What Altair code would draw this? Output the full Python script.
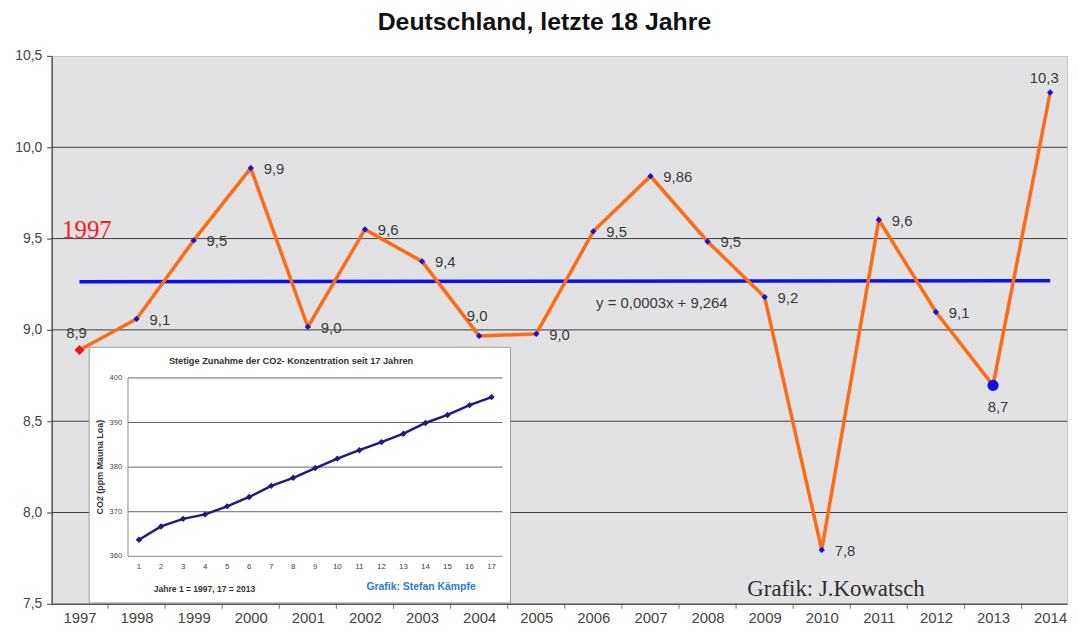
import altair as alt
import pandas as pd

# ---------------- data ----------------
YEARS = [1997, 1998, 1999, 2000, 2001, 2002, 2003, 2004, 2005,
         2006, 2007, 2008, 2009, 2010, 2011, 2012, 2013, 2014]
TEMPS = [8.89, 9.06, 9.49, 9.886, 9.016, 9.55, 9.375, 8.967, 8.978,
         9.54, 9.842, 9.484, 9.18, 7.795, 9.603, 9.098, 8.696, 10.30]
TEMP_LABELS = ["8,9", "9,1", "9,5", "9,9", "9,0", "9,6", "9,4", "9,0", "9,0",
               "9,5", "9,86", "9,5", "9,2", "7,8", "9,6", "9,1", "8,7", "10,3"]
TREND_YEARS = [1997, 2014]
TREND_VALUES = [9.264, 9.269]
Y_TICKS = [7.5, 8.0, 8.5, 9.0, 9.5, 10.0, 10.5]
GRID_LINES = [8.0, 8.5, 9.0, 9.5, 10.0]
TICK_BOUNDS = [1997.5, 1998.5, 1999.5, 2000.5, 2001.5, 2002.5, 2003.5, 2004.5, 2005.5,
               2006.5, 2007.5, 2008.5, 2009.5, 2010.5, 2011.5, 2012.5, 2013.5]

CO2_INDEX = [1, 2, 3, 4, 5, 6, 7, 8, 9, 10, 11, 12, 13, 14, 15, 16, 17]
CO2_PPM = [363.7, 366.7, 368.4, 369.4, 371.2, 373.3, 375.8, 377.6, 379.8,
           381.9, 383.8, 385.6, 387.5, 389.9, 391.7, 393.9, 395.7]
CO2_TICKS = [360, 370, 380, 390, 400]
CO2_GRID = [370, 380, 390, 400]

TITLE = "Deutschland, letzte 18 Jahre"
EQUATION = "y = 0,0003x + 9,264"
INSET_TITLE = "Stetige Zunahme der CO2- Konzentration seit 17 Jahren"
INSET_YTITLE = "CO2 (ppm Mauna Loa)"
INSET_NOTE = "Jahre 1 = 1997, 17 = 2013"
INSET_CREDIT = "Grafik: Stefan Kämpfe"
CREDIT = "Grafik: J.Kowatsch"

# ---------------- layout / style ----------------
W, H = 1023, 552
FONT = "Liberation Sans"
SERIF = "Liberation Serif"
LABEL_COLOR = "#3a3a3a"

xs = alt.Scale(domain=[1996.513, 2014.296], nice=False, zero=False)
ys = alt.Scale(domain=[7.5, 10.5], nice=False, zero=False)
x_axis = alt.Axis(values=YEARS, format="d", tickSize=0, labelFontSize=15, labelFont=FONT,
                  labelColor="#444", labelPadding=7, domainColor="#555", domainWidth=1.5,
                  grid=False, title=None, labelFlush=False, labelOverlap=False)
y_axis = alt.Axis(values=Y_TICKS, labelExpr="replace(format(datum.value, '.1f'), '.', ',')",
                  tickSize=5, tickColor="#555", tickWidth=1.2, labelFontSize=14, labelFont=FONT,
                  labelColor="#444", labelPadding=5, domainColor="#555", domainWidth=1.5,
                  grid=False, title=None, labelOverlap=False)


def MX(field):
    return alt.X(field, type="quantitative", scale=xs, axis=x_axis)


def MY(field):
    return alt.Y(field, type="quantitative", scale=ys, axis=y_axis)


df = pd.DataFrame({"year": YEARS, "temp": TEMPS, "label": TEMP_LABELS})

grid = alt.Chart(pd.DataFrame({"g": GRID_LINES})).mark_rule(
    color="#3c3c3c", strokeWidth=1).encode(y=MY("g"))

ticks = alt.Chart(pd.DataFrame({"b": TICK_BOUNDS, "y": [7.5] * len(TICK_BOUNDS)})).mark_tick(
    orient="vertical", size=5, thickness=1.2, color="#555", yOffset=2.5).encode(x=MX("b"), y=MY("y"))

trend = alt.Chart(pd.DataFrame({"year": TREND_YEARS, "v": TREND_VALUES})).mark_line(
    color="#0a10f0", strokeWidth=3.5).encode(x=MX("year"), y=MY("v"))

line = alt.Chart(df).mark_line(color="#ff6a13", strokeWidth=3.5).encode(x=MX("year"), y=MY("temp"))

pts = alt.Chart(df).transform_filter("datum.year != 1997 && datum.year != 2013").mark_point(
    shape="diamond", filled=True, color="#1010e0", size=40, opacity=1).encode(x=MX("year"), y=MY("temp"))
p_first = alt.Chart(df).transform_filter("datum.year == 1997").mark_point(
    shape="diamond", filled=True, color="#f01414", size=100, opacity=1).encode(x=MX("year"), y=MY("temp"))
p_low = alt.Chart(df).transform_filter("datum.year == 2013").mark_point(
    shape="circle", filled=True, color="#1010e8", size=125, opacity=1).encode(x=MX("year"), y=MY("temp"))

lab_kw = dict(font=FONT, fontSize=15, color=LABEL_COLOR)
lab_right = alt.Chart(df).transform_filter("indexof([1997, 2004, 2013, 2014], datum.year) < 0").mark_text(
    align="left", baseline="middle", dx=13, dy=1, **lab_kw).encode(x=MX("year"), y=MY("temp"), text="label:N")
lab_1997 = alt.Chart(df).transform_filter("datum.year == 1997").mark_text(
    align="center", baseline="middle", dx=-3, dy=-17, **lab_kw).encode(x=MX("year"), y=MY("temp"), text="label:N")
lab_2004 = alt.Chart(df).transform_filter("datum.year == 2004").mark_text(
    align="center", baseline="middle", dx=-2, dy=-20, **lab_kw).encode(x=MX("year"), y=MY("temp"), text="label:N")
lab_2013 = alt.Chart(df).transform_filter("datum.year == 2013").mark_text(
    align="center", baseline="middle", dx=5, dy=22, **lab_kw).encode(x=MX("year"), y=MY("temp"), text="label:N")
lab_2014 = alt.Chart(df).transform_filter("datum.year == 2014").mark_text(
    align="center", baseline="middle", dx=-6, dy=-15, **lab_kw).encode(x=MX("year"), y=MY("temp"), text="label:N")

notes = pd.DataFrame({
    "x": [2007.2, 1997.13, 2010.25],
    "y": [9.149, 9.545, 7.58],
    "t": [EQUATION, "1997", CREDIT],
})
eq = alt.Chart(notes.iloc[[0]]).mark_text(font=FONT, fontSize=15, color="#3a3a3a").encode(
    x=MX("x"), y=MY("y"), text="t:N")
red_year = alt.Chart(notes.iloc[[1]]).mark_text(font=SERIF, fontSize=25, color="#f02020").encode(
    x=MX("x"), y=MY("y"), text="t:N")
credit = alt.Chart(notes.iloc[[2]]).mark_text(font=SERIF, fontSize=23, color="#2e2e2e").encode(
    x=MX("x"), y=MY("y"), text="t:N")

frame = alt.Chart(pd.DataFrame({"x0": [1997.17], "x1": [2004.55], "y0": [7.505], "y1": [8.905]})).mark_rect(
    fill="white", stroke="#9a9a9a", strokeWidth=1).encode(x=MX("x0"), x2="x1", y=MY("y0"), y2="y1")

main = alt.layer(grid, ticks, trend, line, pts, p_first, p_low,
                 lab_right, lab_1997, lab_2004, lab_2013, lab_2014,
                 eq, red_year, credit, frame)

# ---------------- inset ----------------
ixs = alt.Scale(domain=[0.5, 17.5], range=[76.9, 454.3], nice=False, zero=False)
iys = alt.Scale(domain=[360, 400], range=[504.1, 324.4], nice=False, zero=False)


def IX(field):
    return alt.X(field, type="quantitative", scale=ixs, axis=None)


def IY(field):
    return alt.Y(field, type="quantitative", scale=iys, axis=None)


idf = pd.DataFrame({"i": CO2_INDEX, "ppm": CO2_PPM})

igrid = alt.Chart(pd.DataFrame({"t": CO2_GRID, "a": [0.5] * 4, "b": [17.5] * 4})).mark_rule(
    color="#666", strokeWidth=1).encode(y=IY("t"), x=IX("a"), x2="b")
iaxes = alt.Chart(pd.DataFrame({"a": [0.5, 0.5], "b": [0.5, 17.5], "c": [360, 360], "d": [400, 360]})).mark_rule(
    color="#8a8a8a", strokeWidth=1).encode(x=IX("a"), x2="b", y=IY("c"), y2="d")
iline = alt.Chart(idf).mark_line(color="#1c1c80", strokeWidth=2.5,
                                 point=alt.OverlayMarkDef(shape="diamond", filled=True, size=42, color="#1c1c80")
                                 ).encode(x=IX("i"), y=IY("ppm"))
iylab = alt.Chart(pd.DataFrame({"t": CO2_TICKS, "a": [0.5] * 5})).mark_text(
    align="right", baseline="middle", dx=-6, font=FONT, fontSize=7.5, color="#444").encode(
    x=IX("a"), y=IY("t"), text="t:Q")
ixlab = alt.Chart(pd.DataFrame({"i": CO2_INDEX, "c": [360] * 17})).mark_text(
    align="center", baseline="middle", dy=11, font=FONT, fontSize=8, color="#444").encode(
    x=IX("i"), y=IY("c"), text="i:Q")
itexts = pd.DataFrame({
    "x": [0.5, 7.9, 3.97, 13.8],
    "y": [380, 400, 360, 360],
    "t": [INSET_YTITLE, INSET_TITLE, INSET_NOTE, INSET_CREDIT],
})
iytitle = alt.Chart(itexts.iloc[[0]]).mark_text(angle=270, dy=-28, font=FONT, fontSize=9,
                                               fontWeight="bold", color="#333").encode(
    x=IX("x"), y=IY("y"), text="t:N")
ititle = alt.Chart(itexts.iloc[[1]]).mark_text(dy=-17, font=FONT, fontSize=9.3, fontWeight="bold",
                                              color="#333").encode(x=IX("x"), y=IY("y"), text="t:N")
inote = alt.Chart(itexts.iloc[[2]]).mark_text(dy=33, font=FONT, fontSize=8.6, fontWeight="bold",
                                             color="#333").encode(x=IX("x"), y=IY("y"), text="t:N")
icredit = alt.Chart(itexts.iloc[[3]]).mark_text(dy=31, font=FONT, fontSize=10.5, fontWeight="bold",
                                               color="#2b7bd4").encode(x=IX("x"), y=IY("y"), text="t:N")

inset = alt.layer(igrid, iaxes, iline, iylab, ixlab, iytitle, ititle, inote, icredit)

chart = alt.layer(main, inset).resolve_scale(x="independent", y="independent").properties(
    width=W, height=H,
    autosize=alt.AutoSizeParams(type="none"),
    padding={"left": 44, "top": 46, "right": 4, "bottom": 20},
    title=alt.Title(TITLE, font=FONT, fontSize=25, fontWeight="bold", color="#111",
                    anchor="middle", dx=-15, offset=14),
).configure_view(fill="#e2e2e4", stroke="#c4c4c4")

chart.save("out.html", embed_options={"renderer": "svg", "actions": False})
